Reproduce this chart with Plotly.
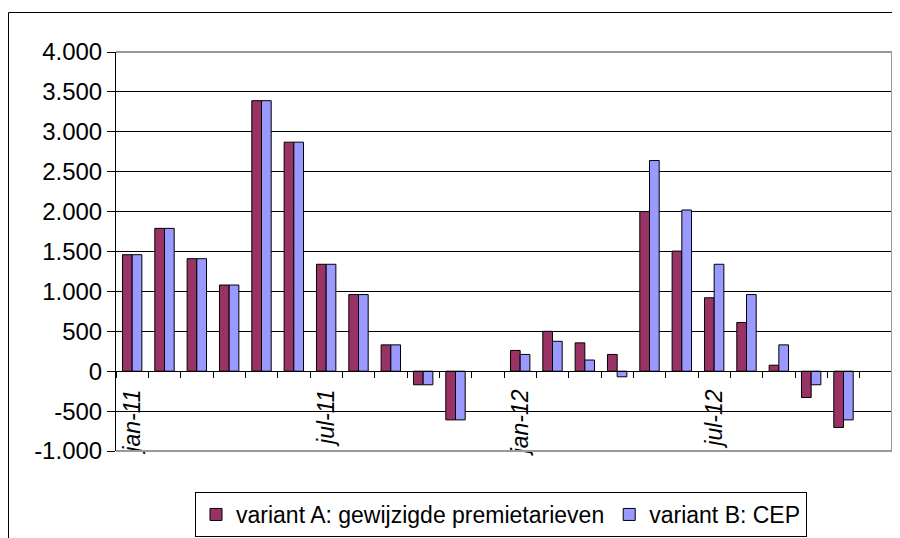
import plotly.graph_objects as go

months = ["jan-11", "feb-11", "mrt-11", "apr-11", "mei-11", "jun-11",
          "jul-11", "aug-11", "sep-11", "okt-11", "nov-11", "dec-11",
          "jan-12", "feb-12", "mrt-12", "apr-12", "mei-12", "jun-12",
          "jul-12", "aug-12", "sep-12", "okt-12", "nov-12", "dec-12"]
shown_labels = ["jan-11", "", "", "", "", "", "jul-11", "", "", "", "", "",
                "jan-12", "", "", "", "", "", "jul-12", "", "", "", "", ""]

variant_a = [1460, 1790, 1410, 1080, 3390, 2870, 1340, 960, 330, -170, -610, None,
             260, 500, 355, 210, 2000, 1505, 920, 610, 75, -330, -705, None]
variant_b = [1460, 1790, 1410, 1080, 3390, 2870, 1340, 960, 330, -170, -610, None,
             210, 375, 140, -70, 2640, 2020, 1340, 960, 330, -170, -610, None]

y_ticks = [-1000, -500, 0, 500, 1000, 1500, 2000, 2500, 3000, 3500, 4000]
y_tick_text = ["-1.000", "-500", "0", "500", "1.000", "1.500", "2.000",
               "2.500", "3.000", "3.500", "4.000"]

name_a = "variant A: gewijzigde premietarieven"
name_b = "variant B: CEP"

FONT = "Liberation Sans, Arial, sans-serif"

fig = go.Figure()
fig.add_trace(go.Bar(x=months, y=variant_a, name=name_a,
                     marker=dict(color="#993366", line=dict(color="black", width=1))))
fig.add_trace(go.Bar(x=months, y=variant_b, name=name_b,
                     marker=dict(color="#9999FF", line=dict(color="black", width=1))))

# page offset of the figure (default body margin)
OFF = 8
L, R, T, B = 116 - OFF, 892 - OFF, 52 - OFF, 451 - OFF
W, H = 900, 538
pw, ph = R - L, B - T

fig.update_layout(
    width=W, height=H,
    margin=dict(l=L, r=W - R, t=T, b=H - B, pad=0, autoexpand=False),
    paper_bgcolor="white", plot_bgcolor="white",
    font=dict(family=FONT, size=24, color="black"),
    barmode="group", bargap=0.40, bargroupgap=0,
    showlegend=True,
    legend=dict(orientation="h", x=(195 - OFF - L) / pw, xanchor="left",
                y=(B - (492 - OFF)) / ph, yanchor="top",
                bordercolor="black", borderwidth=1,
                font=dict(family=FONT, size=23, color="black"),
                itemclick=False, tracegroupgap=0),
    xaxis=dict(type="category", anchor="free", position=0.2,
               tickmode="array", tickvals=months, ticktext=shown_labels,
               tickson="boundaries", ticks="outside", ticklen=6, tickcolor="black",
               tickangle=-90, ticklabelstandoff=8, automargin=False,
               tickfont=dict(family=FONT, size=23, color="black", style="italic"),
               showline=True, linecolor="black", linewidth=1,
               showgrid=False, zeroline=False),
    yaxis=dict(range=[-1000, 4000], tickmode="array", tickvals=y_ticks,
               ticktext=y_tick_text, ticks="outside", ticklen=8, tickcolor="black",
               showline=True, linecolor="black", linewidth=1, automargin=False,
               showgrid=True, gridcolor="black", gridwidth=1,
               zeroline=True, zerolinecolor="black", zerolinewidth=1,
               tickfont=dict(family=FONT, size=24, color="black")),
    shapes=[
        dict(type="line", xref="paper", yref="paper", x0=0, x1=1, y0=1, y1=1,
             line=dict(color="#999999", width=2), layer="above"),
        dict(type="line", xref="paper", yref="paper", x0=1, x1=1, y0=0, y1=1,
             line=dict(color="#999999", width=2), layer="above"),
        dict(type="line", xref="paper", yref="paper", x0=0, x1=1, y0=0, y1=0,
             line=dict(color="#999999", width=2), layer="above"),
        dict(type="rect", xref="paper", yref="paper",
             x0=(0.5 - L) / pw, x1=1.5, y0=-1.0, y1=(B - (12.5 - OFF)) / ph,
             line=dict(color="black", width=1), layer="below"),
    ],
)

fig.write_html("out.html")
